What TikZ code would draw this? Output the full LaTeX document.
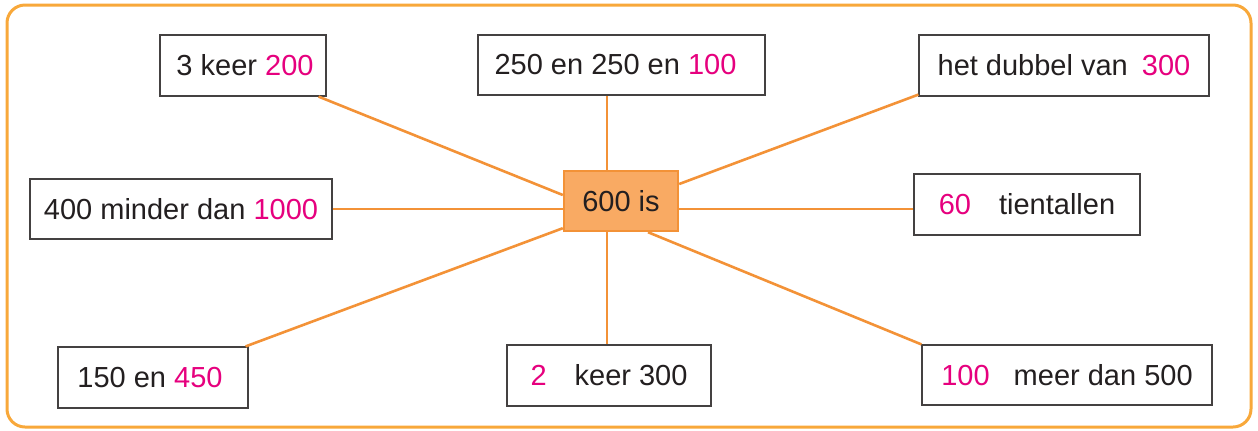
\documentclass[tikz,border=0pt]{standalone}
\usepackage{fontspec}
\setmainfont{Liberation Sans}
\usetikzlibrary{calc}
\definecolor{frameor}{HTML}{F8A83A}
\definecolor{lineor}{HTML}{F39237}
\definecolor{fillor}{HTML}{F9AA63}
\definecolor{mag}{HTML}{E6007E}
\definecolor{txt}{HTML}{231F20}
\begin{document}
\begin{tikzpicture}[x=0.5pt,y=-0.5pt,
  box/.style={draw=txt!85, line width=0.6pt, fill=white, inner sep=0pt, text=txt,
    font=\fontsize{14.5pt}{17pt}\selectfont},
  centerbox/.style={draw=lineor, line width=1.2pt, fill=fillor, inner sep=0pt, text=txt,
    font=\fontsize{14.5pt}{17pt}\selectfont, minimum width=57pt, minimum height=30pt},
  conn/.style={draw=lineor, line width=1.3pt},
  hl/.style={text=mag}]
\useasboundingbox (0,0) rectangle (1258,430);
\draw[frameor, line width=1.5pt, rounded corners=9pt] (7,5) rectangle (1251,427);
\node[box, minimum width=83pt, minimum height=30.5pt] (b1) at (243,65.5) {\hspace{2pt}3 keer \textcolor{mag}{200}};
\node[box, minimum width=143.5pt, minimum height=30pt] (b2) at (621.5,65) {\hspace{-6pt}250 en 250 en \textcolor{mag}{100}};
\node[box, minimum width=145pt, minimum height=30.5pt] (b3) at (1064,65.5) {het dubbel van\hspace{3pt} \textcolor{mag}{300}};
\node[box, minimum width=151pt, minimum height=30pt] (b4) at (181,209) {400 minder dan \textcolor{mag}{1000}};
\node[box, minimum width=113pt, minimum height=30.5pt] (b6) at (1027,204.5) {\textcolor{mag}{60}\hspace{14pt}tientallen};
\node[box, minimum width=95pt, minimum height=30.5pt] (b7) at (153,377.5) {\hspace{-3pt}150 en \textcolor{mag}{450}};
\node[box, minimum width=102pt, minimum height=30.5pt] (b8) at (609,375.5) {\textcolor{mag}{2}\hspace{14pt}keer 300};
\node[box, minimum width=145pt, minimum height=30pt] (b9) at (1067,375) {\textcolor{mag}{100}\hspace{12pt}meer dan 500};
\node[centerbox] (c) at (621,201) {600 is};
\coordinate (ct) at ($(c.north)+(-14,0)$);
\coordinate (cb) at ($(c.south)+(-14,0)$);
\draw[conn] ($(b1.south east)+(-8,0)$) -- ($(c.west)+(0,-6)$);
\draw[conn] (ct) -- (ct |- b2.south);
\draw[conn] ($(b3.south west)+(0,-2)$) -- ($(c.east)+(0,-17)$);
\draw[conn] (b4.east) -- ($(c.west)+(0,8)$);
\draw[conn] ($(c.east)+(0,8)$) -- ($(b6.west)+(0,4.5)$);
\draw[conn] ($(b7.north east)+(-3,0)$) -- ($(c.south west)+(0,-4)$);
\draw[conn] (cb) -- (cb |- b8.north);
\draw[conn] ($(c.south)+(27,0)$) -- (b9.north west);
\end{tikzpicture}
\end{document}
